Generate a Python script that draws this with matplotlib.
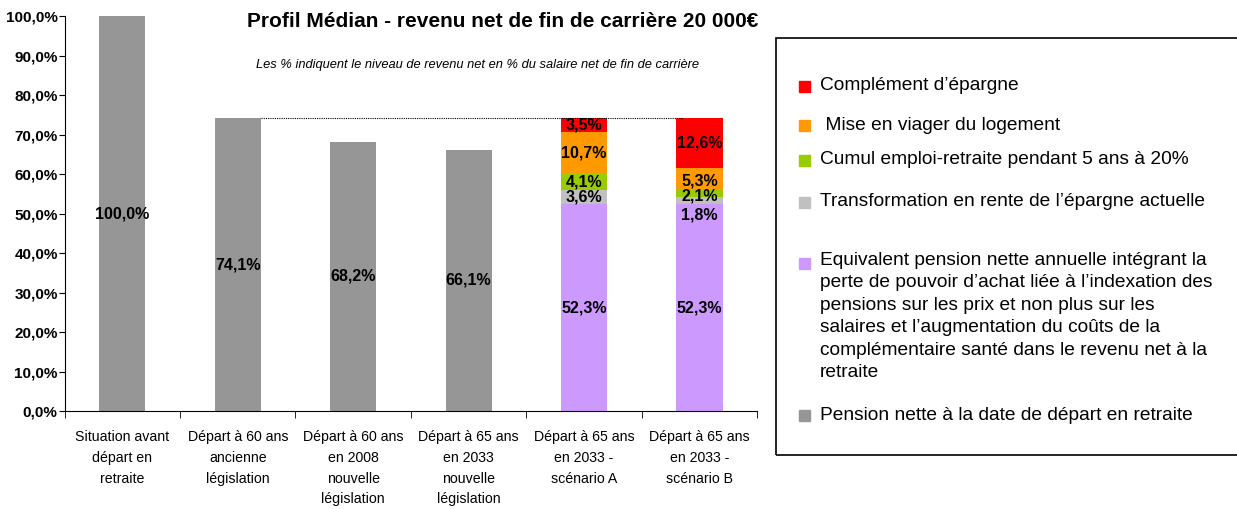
import matplotlib.pyplot as plt
from matplotlib.patches import Rectangle

plt.rcParams['font.family'] = ['Liberation Sans', 'DejaVu Sans']

categories = ["Situation avant\ndépart en\nretraite",
              "Départ à 60 ans\nancienne\nlégislation",
              "Départ à 60 ans\nen 2008\nnouvelle\nlégislation",
              "Départ à 65 ans\nen 2033\nnouvelle\nlégislation",
              "Départ à 65 ans\nen 2033 -\nscénario A",
              "Départ à 65 ans\nen 2033 -\nscénario B"]

pension = [100.0, 74.1, 68.2, 66.1, 0, 0]
equivalent = [0, 0, 0, 0, 52.3, 52.3]
rente = [0, 0, 0, 0, 3.6, 1.8]
cumul = [0, 0, 0, 0, 4.1, 2.1]
viager = [0, 0, 0, 0, 10.7, 5.3]
complement = [0, 0, 0, 0, 3.5, 12.6]

series = [
    (pension, "#969696", "Pension nette à la date de départ en retraite"),
    (equivalent, "#CC99FF", "Equivalent pension nette annuelle intégrant la\nperte de pouvoir d’achat liée à l’indexation des\npensions sur les prix et non plus sur les\nsalaires et l’augmentation du coûts de la\ncomplémentaire santé dans le revenu net à la\nretraite"),
    (rente, "#C0C0C0", "Transformation en rente de l’épargne actuelle"),
    (cumul, "#99CC00", "Cumul emploi-retraite pendant 5 ans à 20%"),
    (viager, "#FF9900", " Mise en viager du logement"),
    (complement, "#FF0000", "Complément d’épargne"),
]

fig = plt.figure(figsize=(12.37, 5.09), dpi=100)
ax = fig.add_axes([0.0522, 0.1925, 0.560, 0.776])

x = list(range(len(categories)))
bottom = [0.0] * len(categories)
for vals, col, lab in series:
    ax.bar(x, vals, 0.4, bottom=bottom, color=col, linewidth=0)
    for i, v in enumerate(vals):
        if v > 0:
            yc = bottom[i] + v / 2
            if i == 5 and vals is rente:
                yc -= 3.5
            elif i == 5 and vals is cumul:
                yc -= 0.8
            elif i == 5 and vals is viager:
                yc -= 0.6
            ax.text(i, yc, ("%.1f%%" % v).replace(".", ","), ha="center", va="center",
                    fontsize=11.5, fontweight="bold")
    bottom = [b + v for b, v in zip(bottom, vals)]

# dotted reference line at the level of the old legislation
ax.plot([1.2, 4.86], [pension[1], pension[1]], color="black", linestyle=(0, (1, 1)), linewidth=0.8)

ax.set_xlim(-0.5, 5.5)
ax.set_ylim(0, 100)
ax.set_yticks(range(0, 101, 10))
ax.set_yticklabels([("%.1f%%" % t).replace(".", ",") for t in range(0, 101, 10)],
                   fontsize=11, fontweight="bold")
ax.set_xticks(x)
ax.set_xticklabels(categories, fontsize=10.2, linespacing=1.6)
ax.set_xticks([i + 0.5 for i in range(-1, 6)], minor=True)
ax.tick_params(axis="x", which="major", length=0, pad=14)
ax.tick_params(axis="x", which="minor", length=5, direction="out")
ax.tick_params(axis="y", length=4, direction="out", pad=1)
ax.spines["top"].set_visible(False)
ax.spines["right"].set_visible(False)

fig.text(0.406, 0.958, "Profil Médian - revenu net de fin de carrière 20 000€",
         ha="center", va="center", fontsize=15, fontweight="bold")
fig.text(0.386, 0.872, "Les % indiquent le niveau de revenu net en % du salaire net de fin de carrière",
         ha="center", va="center", fontsize=9.3, style="italic")

# legend box
fig.patches.append(Rectangle((776 / 1237, 1 - 455 / 509), 470 / 1237, 417 / 509,
                             transform=fig.transFigure, fill=False, edgecolor="black",
                             linewidth=1.2))
leg_y = [415, 263, 202, 160, 125, 86]
for (vals, col, lab), y in zip(series, leg_y):
    yf = 1 - y / 509
    fig.patches.append(Rectangle((799 / 1237, yf - 0.011), 11 / 1237, 11 / 509,
                                 transform=fig.transFigure, color=col))
    if "\n" in lab:
        fig.text(820 / 1237, yf + 11 / 509, lab, ha="left", va="top",
                 fontsize=13.8, linespacing=1.42)
    else:
        fig.text(820 / 1237, yf, lab, ha="left", va="center", fontsize=13.8)

fig.savefig("out.png", dpi=100)
